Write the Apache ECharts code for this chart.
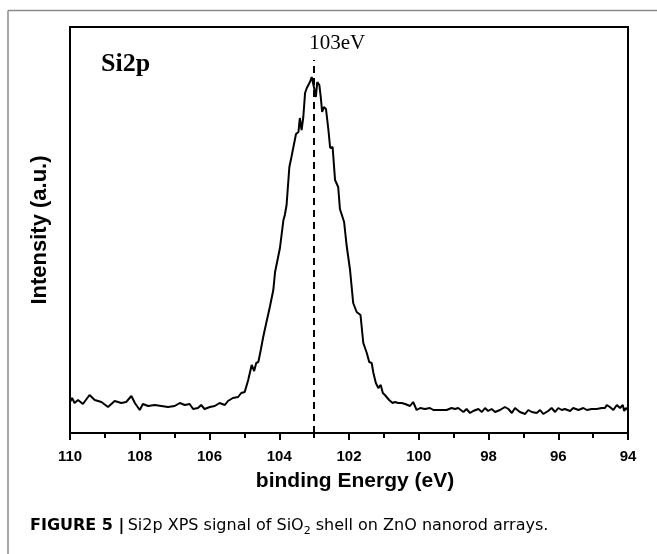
<!DOCTYPE html>
<html>
<head>
<meta charset="utf-8">
<script src="https://cdn.jsdelivr.net/npm/echarts@6/dist/echarts.min.js"></script>
<style>
  html, body { margin: 0; padding: 0; background: #fff; }
  #chart { width: 657px; height: 554px; }
</style>
</head>
<body>
<div id="chart"></div>
<script>
// binding energy (eV), high to low
var energy = [
    110.00, 109.94, 109.87, 109.77, 109.63, 109.44, 109.29, 109.10, 108.91, 108.72,
    108.53, 108.39, 108.24, 108.14, 108.00, 107.91, 107.76, 107.57, 107.38, 107.19,
    107.00, 106.85, 106.71, 106.57, 106.47, 106.33, 106.24, 106.14, 105.99, 105.85,
    105.71, 105.56, 105.47, 105.33, 105.18, 105.09, 104.99, 104.89, 104.79, 104.72,
    104.66, 104.60, 104.53, 104.46, 104.36, 104.27, 104.17, 104.12, 104.07, 103.98,
    103.88, 103.84, 103.79, 103.71, 103.65, 103.60, 103.52, 103.45, 103.41, 103.36,
    103.31, 103.26, 103.21, 103.17, 103.12, 103.07, 103.04, 103.00, 102.95, 102.91,
    102.85, 102.81, 102.77, 102.72, 102.66, 102.62, 102.59, 102.54, 102.50, 102.47,
    102.40, 102.31, 102.26, 102.14, 102.07, 101.97, 101.88, 101.78, 101.67, 101.59,
    101.49, 101.42, 101.35, 101.30, 101.23, 101.16, 101.09, 101.03, 100.97, 100.92,
    100.85, 100.80, 100.75, 100.68, 100.59, 100.49, 100.39, 100.25, 100.16, 100.06,
    99.96, 99.82, 99.68, 99.58, 99.39, 99.20, 99.06, 98.96, 98.87, 98.72,
    98.63, 98.53, 98.44, 98.29, 98.19, 98.10, 98.01, 97.91, 97.81, 97.67,
    97.53, 97.43, 97.33, 97.24, 97.10, 96.95, 96.86, 96.76, 96.62, 96.52,
    96.43, 96.29, 96.19, 96.09, 96.00, 95.90, 95.81, 95.66, 95.57, 95.42,
    95.28, 95.18, 95.04, 94.90, 94.75, 94.66, 94.61, 94.52, 94.42, 94.32,
    94.23, 94.15, 94.11, 94.06, 94.00
];

// intensity (a.u.)
var intensity = [
    31, 35, 30, 33, 29, 38, 33, 31, 26, 32,
    30, 31, 37, 30, 23, 29, 27, 28, 27, 26,
    27, 30, 28, 29, 24, 25, 28, 24, 26, 27,
    30, 28, 32, 35, 36, 40, 41, 53, 68, 62,
    70, 71, 83, 96, 112, 126, 143, 161, 163, 185,
    213, 218, 228, 266, 276, 276, 299, 301, 315, 303,
    316, 340, 345, 346, 351, 356, 358, 345, 336, 351,
    348, 336, 321, 326, 324, 323, 303, 285, 283, 286,
    253, 246, 224, 211, 188, 163, 130, 121, 118, 90,
    80, 71, 70, 60, 50, 45, 48, 40, 38, 40,
    33, 35, 30, 31, 30, 30, 29, 27, 31, 23,
    25, 24, 25, 23, 23, 23, 25, 24, 25, 21,
    24, 20, 22, 24, 21, 25, 22, 24, 21, 23,
    26, 24, 20, 25, 21, 19, 23, 21, 20, 23,
    19, 22, 25, 21, 25, 23, 24, 22, 25, 23,
    25, 23, 24, 24, 25, 25, 28, 26, 23, 28,
    25, 28, 22, 25, 23
];

var xTicks = [110, 108, 106, 104, 102, 100, 98, 96, 94];
var peakPos = [103];
var peakLabel = ['103eV'];

var points = energy.map(function (e, i) {
    return [e, intensity[i]];
});

var chart = echarts.init(document.getElementById('chart'));

var sans = '"Liberation Sans", Arial, sans-serif';
var serif = '"Liberation Serif", "Times New Roman", serif';
var capFont = '"DejaVu Sans", sans-serif';

var option = {
    animation: false,
    backgroundColor: '#fff',
    title: {
        text: 'Si2p',
        left: 101,
        top: 51,
        padding: 0,
        textStyle: {
            fontFamily: serif,
            fontWeight: 'bold',
            fontSize: 26,
            color: '#000'
        }
    },
    grid: {
        left: 70,
        right: 29,
        top: 27,
        bottom: 121,
        show: true,
        borderColor: '#000',
        borderWidth: 2
    },
    xAxis: {
        type: 'value',
        min: xTicks[xTicks.length - 1],
        max: xTicks[0],
        interval: 2,
        inverse: true,
        name: 'binding Energy (eV)',
        nameLocation: 'middle',
        nameGap: 38,
        nameTextStyle: {
            fontFamily: sans,
            fontWeight: 'bold',
            fontSize: 21,
            color: '#000',
            padding: [0, 0, 0, 12]
        },
        axisLine: {lineStyle: {color: '#000', width: 2}},
        axisTick: {show: true, inside: false, length: 7, lineStyle: {color: '#000', width: 2}},
        minorTick: {show: true, splitNumber: 2, length: 5, lineStyle: {color: '#000', width: 2}},
        splitLine: {show: false},
        axisLabel: {
            margin: 16,
            fontFamily: sans,
            fontWeight: 'bold',
            fontSize: 15,
            color: '#000'
        }
    },
    yAxis: {
        type: 'value',
        min: 0,
        max: 406,
        name: 'Intensity (a.u.)',
        nameLocation: 'middle',
        nameGap: 19,
        nameTextStyle: {
            fontFamily: sans,
            fontWeight: 'bold',
            fontSize: 22,
            color: '#000'
        },
        axisLine: {show: true, lineStyle: {color: '#000', width: 2}},
        axisTick: {show: false},
        axisLabel: {show: false},
        splitLine: {show: false}
    },
    series: [
        {
            type: 'line',
            data: points,
            showSymbol: false,
            lineStyle: {color: '#000', width: 2},
            markLine: {
                silent: true,
                symbol: 'none',
                lineStyle: {color: '#000', width: 2, type: [7, 5]},
                label: {
                    show: true,
                    position: 'end',
                    distance: 6,
                    padding: [0, 0, 0, 46],
                    formatter: peakLabel[0],
                    fontFamily: serif,
                    fontSize: 21,
                    color: '#000'
                },
                data: [
                    [{coord: [peakPos[0], 0]}, {coord: [peakPos[0], 373]}]
                ]
            }
        }
    ],
    graphic: [
        {
            type: 'line',
            shape: {x1: 8, y1: 10.5, x2: 657, y2: 10.5},
            style: {stroke: '#8a8a8a', lineWidth: 1.5}
        },
        {
            type: 'line',
            shape: {x1: 8, y1: 10.5, x2: 8, y2: 554},
            style: {stroke: '#8a8a8a', lineWidth: 1.5}
        },
        {
            type: 'text',
            left: 30,
            top: 518,
            style: {
                text: '{b|FIGURE 5 |} {n|Si2p XPS signal of SiO}{s|2}{n| shell on ZnO nanorod arrays.}',
                rich: {
                    b: {fontFamily: capFont, fontWeight: 'bold', fontSize: 16, color: '#333', lineHeight: 22},
                    n: {fontFamily: capFont, fontSize: 16, color: '#555', lineHeight: 22},
                    s: {fontFamily: capFont, fontSize: 11, color: '#555', lineHeight: 14, verticalAlign: 'bottom'}
                }
            }
        }
    ]
};

chart.setOption(option);
</script>
</body>
</html>
